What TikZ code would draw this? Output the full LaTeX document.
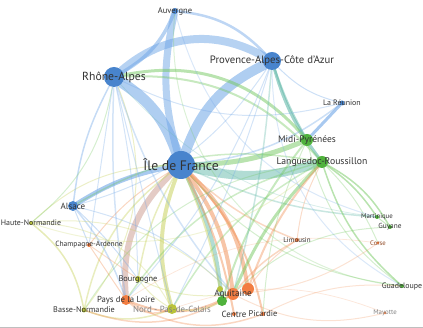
\documentclass[tikz,border=0pt]{standalone}
\usepackage{fontspec}
\setmainfont{PT Sans}
\usetikzlibrary{backgrounds}

\definecolor{blueE}{RGB}{110,165,230}
\definecolor{blueN}{RGB}{72,132,205}
\definecolor{greenE}{RGB}{115,200,95}
\definecolor{greenN}{RGB}{80,178,60}
\definecolor{tealE}{RGB}{100,185,170}
\definecolor{orangeE}{RGB}{240,140,80}
\definecolor{orangeN}{RGB}{242,125,65}
\definecolor{yellowE}{RGB}{200,210,95}
\definecolor{yellowN}{RGB}{185,195,60}
\definecolor{brownE}{RGB}{205,160,150}
\definecolor{labC}{RGB}{50,50,50}
\definecolor{labG}{RGB}{130,130,130}

\tikzset{
  region/.style={circle, inner sep=0pt, minimum size=#1},
  region/.default=5pt,
  lab/.style={text=labC, inner sep=0pt, font=\fontsize{#1}{#1}\selectfont},
  lab/.default=6,
  link/.style={line cap=round},
}

\begin{document}
\begin{tikzpicture}[x=1pt,y=1pt]
  \useasboundingbox (0,0) rectangle (423,328);
  % regions
  \node[region=28pt, fill=blueN] (idf) at (181,163) {};
  \node[region=20pt, fill=blueN] (ra) at (114,251) {};
  \node[region=18pt, fill=blueN] (paca) at (272,267) {};
  \node[region=6pt, fill=blueN] (auv) at (175,317) {};
  \node[region=5pt, fill=blueN] (reu) at (342,225) {};
  \node[region=12pt, fill=greenN] (midi) at (307,188) {};
  \node[region=12pt, fill=greenN] (lang) at (322,166) {};
  \node[region=10pt, fill=blueN] (als) at (73,122) {};
  \node[region=4pt, fill=yellowN] (hn) at (31,105) {};
  \node[region=4pt, fill=orangeN] (ca) at (89,83) {};
  \node[region=4pt, fill=greenN] (mart) at (377,111) {};
  \node[region=4pt, fill=greenN] (guy) at (390,101) {};
  \node[region=3pt, fill=orangeN] (corse) at (378,85) {};
  \node[region=4pt, fill=orangeN] (lim) at (297,88) {};
  \node[region=6pt, fill=yellowN] (bour) at (138,49) {};
  \node[region=10pt, fill=orangeN] (pdl) at (126,28) {};
  \node[region=5pt, fill=yellowN] (bn) at (84,18) {};
  \node[region=10pt, fill=yellowN] (npc) at (172,19) {};
  \node[region=12pt, fill=orangeN] (aqu) at (233,34) {};
  \node[region=10pt, fill=greenN] (grA) at (222,27) {};
  \node[region=6pt, fill=yellowN] (yeA) at (220,39) {};
  \node[region=12pt, fill=orangeN] (orA) at (248,39) {};
  \node[region=4pt, fill=orangeN] (cen) at (234,14) {};
  \node[region=4pt, fill=orangeN] (pic) at (263,14) {};
  \node[region=4pt, fill=greenN] (guad) at (402,42) {};
  \node[region=3pt, fill=orangeN] (mayo) at (385,15) {};
  % links
  \begin{scope}[on background layer]
    \foreach \a/\b/\w/\c/\o/\bd in {
      ra/idf/11/blueE/0.55/18, ra/paca/8/blueE/0.5/35, idf/paca/10/blueE/0.55/22,
      auv/idf/7/blueE/0.5/-14, auv/ra/3.5/blueE/0.5/18, auv/paca/2.5/blueE/0.45/20,
      idf/lang/9/tealE/0.5/-15, idf/midi/5/greenE/0.5/-10, als/idf/4.5/blueE/0.6/10,
      paca/lang/3/tealE/0.6/-10, paca/midi/2/tealE/0.5/-5, reu/midi/3/blueE/0.6/0,
      ra/midi/3/greenE/0.5/30, ra/lang/2/greenE/0.4/25,
      idf/grA/4/tealE/0.5/10, idf/aqu/4/orangeE/0.5/14, idf/orA/4/orangeE/0.5/18,
      idf/yeA/2/yellowE/0.45/6, idf/pdl/6/brownE/0.55/-25, idf/pic/2/orangeE/0.45/15,
      idf/cen/2/orangeE/0.45/8, idf/npc/4/yellowE/0.55/-18, idf/bour/1.5/yellowE/0.4/-10,
      idf/bn/1.5/yellowE/0.4/-20, idf/hn/1/yellowE/0.35/-20, idf/ca/1/orangeE/0.35/-10,
      idf/lim/1.5/orangeE/0.35/-10, idf/reu/1.5/blueE/0.35/-15, idf/guad/1/greenE/0.3/-20,
      idf/mart/1.5/tealE/0.35/-10,
      lang/aqu/3/greenE/0.5/-10, lang/orA/2/orangeE/0.4/-10, lang/guad/1.5/greenE/0.5/-15,
      lang/mart/1.5/greenE/0.5/10, lang/guy/1.5/greenE/0.5/15, lang/corse/1/greenE/0.3/10,
      lang/npc/1.5/greenE/0.35/-15, lang/pdl/1.5/greenE/0.35/-20, lang/bn/1/greenE/0.3/-25,
      lang/als/1.5/greenE/0.35/-20, midi/grA/2/greenE/0.4/-10, midi/pic/1/greenE/0.3/-10,
      midi/guad/1/greenE/0.3/-20,
      ra/als/1.5/blueE/0.4/-10, ra/hn/1/greenE/0.3/20, ra/bn/1/yellowE/0.35/30,
      ra/ca/1/blueE/0.3/0, ra/bour/1/blueE/0.3/5, ra/pdl/1.5/blueE/0.3/-5,
      ra/aqu/1.5/blueE/0.3/-10, ra/npc/1/blueE/0.3/0, ra/reu/1/blueE/0.3/-20,
      paca/reu/1/blueE/0.35/-15, paca/aqu/1.5/tealE/0.35/5, paca/pdl/1/blueE/0.3/10,
      paca/npc/1/blueE/0.3/5, paca/als/1/blueE/0.3/20, paca/guad/1/blueE/0.25/-30,
      auv/guad/1/greenE/0.25/-45, auv/mart/1/blueE/0.25/-30,
      als/ca/1/blueE/0.35/0, als/pdl/1.5/blueE/0.35/10, als/bour/1/blueE/0.35/5,
      als/aqu/1/blueE/0.3/15,
      hn/bn/1.5/yellowE/0.45/20, hn/npc/1/yellowE/0.3/30, hn/aqu/1/yellowE/0.3/25,
      hn/lang/1/yellowE/0.25/-30, bn/npc/1.5/yellowE/0.4/-20, bn/aqu/1.5/orangeE/0.35/-25,
      pdl/aqu/2/orangeE/0.45/-25, pdl/pic/1.5/orangeE/0.35/-25, pdl/npc/1.5/orangeE/0.35/-30,
      bour/aqu/1/yellowE/0.35/-15, bour/npc/1/yellowE/0.35/-10, npc/aqu/1.5/yellowE/0.35/-20,
      aqu/mayo/1/orangeE/0.25/-20, aqu/corse/1/orangeE/0.25/-15, aqu/lim/1.5/orangeE/0.35/10,
      orA/lim/1/orangeE/0.3/10, pic/guad/1/orangeE/0.25/15, ca/pdl/1/orangeE/0.35/0,
      ca/bour/1/orangeE/0.3/0, lim/lang/1/orangeE/0.3/10, corse/pdl/0.8/orangeE/0.2/-20,
      mayo/npc/0.8/orangeE/0.2/-20, mart/guy/1/greenE/0.4/0, guy/aqu/1/greenE/0.3/-20,
      mart/ra/0.8/tealE/0.25/20} {
      \draw[link, line width=\w pt, draw=\c, draw opacity=\o] (\a) to[bend left=\bd] (\b);
    }
  \end{scope}
  % labels
  \node[lab=13.7] at (idf) {Île de France};
  \node[lab=11.7] at (ra) {Rhône-Alpes};
  \node[lab=10.7] at (paca) {Provence-Alpes-Côte d'Azur};
  \node[lab=8.5] at (auv) {Auvergne};
  \node[lab=7.9] at (reu) {La Réunion};
  \node[lab=9.5] at (midi) {Midi-Pyrénées};
  \node[lab=9.7] at (lang) {Languedoc-Roussillon};
  \node[lab=9] at (als) {Alsace};
  \node[lab=7.9] at (hn) {Haute-Normandie};
  \node[lab=7.5] at (ca) {Champagne-Ardenne};
  \node[lab=6.8] at (mart) {Martinique};
  \node[lab=7.3] at (guy) {Guyane};
  \node[lab=6.7, text=orangeN!60!black] at (corse) {Corse};
  \node[lab=7] at (lim) {Limousin};
  \node[lab=8.3] at (bour) {Bourgogne};
  \node[lab=8.7] at (pdl) {Pays de la Loire};
  \node[lab=8.2] at (bn) {Basse-Normandie};
  \node[lab=8.9, text=labG] at (npc) {Nord - Pas-de-Calais};
  \node[lab=9.2] at (aqu) {Aquitaine};
  \node[lab=8.9] at (cen) {Centre};
  \node[lab=8.4] at (pic) {Picardie};
  \node[lab=7.9] at (guad) {Guadeloupe};
  \node[lab=6.8, text=labG] at (mayo) {Mayotte};
  % bottom rule
  \draw[gray!50, line width=1.2pt] (0,0.6) -- (423,0.6);
\end{tikzpicture}
\end{document}
